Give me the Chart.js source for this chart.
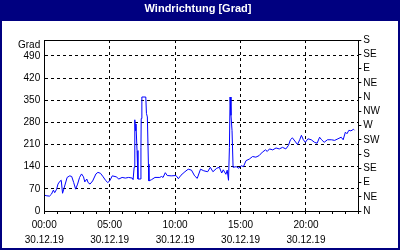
<!DOCTYPE html>
<html>
<head>
<meta charset="utf-8">
<script src="https://cdn.jsdelivr.net/npm/chart.js@4"></script>
<style>
    html, body { margin: 0; padding: 0; background: #fff; }
</style>
</head>
<body>
<canvas id="grafikWind" width="400" height="250"></canvas>
<script>
// Messwerte Windrichtung (Stunde des Tages, Grad)
const stunden = [
    0.00, 0.20, 0.40, 0.55, 0.70, 0.80, 0.95, 1.05, 1.20, 1.30, 1.40, 1.50,
    1.75, 1.95, 2.10, 2.25, 2.40, 2.55, 2.70, 2.85, 3.00, 3.10, 3.25, 3.35,
    3.50, 3.70, 3.95, 4.10, 4.30, 4.50, 4.70, 4.85, 5.00, 5.20, 5.50, 5.70,
    5.95, 6.20, 6.45, 6.72, 6.79, 6.87, 6.92, 6.97, 7.01, 7.09, 7.16, 7.34,
    7.39, 7.41, 7.46, 7.76, 7.81, 7.88, 7.96, 8.00, 8.20, 8.46, 8.83, 8.96,
    9.08, 9.25, 9.40, 9.70, 10.07, 10.25, 10.45, 10.75, 11.00, 11.25, 11.49, 11.69,
    11.94, 12.19, 12.49, 12.69, 12.89, 13.18, 13.38, 13.56, 13.68, 13.88, 13.98, 14.08,
    14.15, 14.20, 14.27, 14.35, 14.43, 14.67, 14.87, 15.05, 15.22, 15.42, 15.67, 15.92,
    16.17, 16.42, 16.67, 16.91, 17.04, 17.21, 17.46, 17.71, 17.96, 18.21, 18.46, 18.66,
    18.81, 18.96, 19.15, 19.35, 19.52, 19.65, 19.80, 19.95, 20.15, 20.40, 20.65, 20.85,
    21.04, 21.19, 21.39, 21.64, 21.94, 22.19, 22.44, 22.69, 22.84, 23.01, 23.13, 23.28,
    23.43, 23.63, 23.70
];
const grad = [
    50, 48, 47, 53, 66, 58, 69, 85, 94, 97, 56, 70,
    106, 111, 109, 90, 69, 85, 106, 117, 108, 92, 101, 90,
    85, 95, 117, 122, 119, 108, 96, 90, 95, 111, 108, 101,
    106, 104, 106, 104, 99, 138, 288, 254, 275, 191, 101, 101,
    201, 292, 360, 360, 308, 297, 148, 95, 99, 106, 106, 109,
    106, 121, 112, 111, 112, 102, 113, 124, 132, 129, 111, 103,
    132, 127, 124, 138, 124, 135, 138, 120, 130, 116, 129, 97,
    201, 360, 302, 254, 138, 140, 135, 143, 140, 159, 164, 172,
    170, 175, 186, 193, 188, 196, 193, 199, 196, 201, 196, 207,
    225, 231, 221, 210, 225, 239, 225, 217, 228, 225, 217, 214,
    233, 225, 217, 225, 225, 223, 228, 233, 225, 249, 244, 255,
    253, 258, 255
];

// Achsen
const gradTicks = [0, 70, 140, 210, 280, 350, 420, 490, 540];
const richtungTicks = [0, 45, 90, 135, 180, 225, 270, 315, 360, 405, 450, 495, 540];
const richtungen = ['N', 'NE', 'E', 'SE', 'S', 'SW', 'W', 'NW', 'N', 'NE', 'E', 'SE', 'S'];
const stundenTicks = [0, 1, 2, 3, 4, 5, 6, 7, 8, 9, 10, 11, 12, 13, 14, 15, 16, 17, 18, 19, 20, 21, 22, 23, 24];
const datum = '30.12.19';

const schrift = { family: '"Liberation Sans", Arial, sans-serif', size: 10 };
const navy = '#000080';

// Rahmen und Titelbalken
const rahmenPlugin = {
    id: 'rahmen',
    beforeDraw(chart) {
        const ctx = chart.ctx;
        ctx.save();
        ctx.fillStyle = '#fff';
        ctx.fillRect(0, 0, chart.width, chart.height);
        ctx.fillStyle = navy;
        ctx.fillRect(0, 0, chart.width, 21);
        ctx.fillRect(0, 0, 2, chart.height);
        ctx.fillRect(chart.width - 2, 0, 2, chart.height);
        ctx.fillRect(0, chart.height - 2, chart.width, 2);
        ctx.restore();
    },
    afterDraw(chart) {
        const a = chart.chartArea;
        const ctx = chart.ctx;
        ctx.save();
        ctx.strokeStyle = '#000';
        ctx.lineWidth = 1;
        ctx.strokeRect(Math.round(a.left) + 0.5, Math.round(a.top) + 0.5,
            Math.round(a.right - a.left), Math.round(a.bottom - a.top));
        ctx.restore();
    }
};

function zweistellig(n) {
    return (n < 10 ? '0' : '') + n;
}

const ctxWind = document.getElementById('grafikWind').getContext('2d');
const grafikWind = new Chart(ctxWind, {
    type: 'line',
    data: {
        datasets: [{
            label: 'Windrichtung',
            data: stunden.map((h, i) => ({ x: h, y: grad[i] })),
            borderColor: '#0000ff',
            borderWidth: 1,
            pointRadius: 0,
            tension: 0,
            fill: false,
            yAxisID: 'y'
        }]
    },
    options: {
        responsive: false,
        animation: false,
        devicePixelRatio: 1,
        layout: {
            padding: { left: 14, right: 18, bottom: -2, top: 0 }
        },
        plugins: {
            legend: { display: false },
            tooltip: { enabled: false },
            title: {
                display: true,
                text: 'Windrichtung [Grad]',
                color: '#fff',
                font: { family: schrift.family, size: 11, weight: 'bold' },
                padding: { top: 2, bottom: 24.8 }
            }
        },
        scales: {
            x: {
                type: 'linear',
                min: 0,
                max: 24,
                afterBuildTicks: s => { s.ticks = stundenTicks.map(v => ({ value: v })); },
                ticks: {
                    autoSkip: false,
                    maxRotation: 0,
                    padding: 4,
                    color: '#000',
                    font: { family: schrift.family, size: 10, lineHeight: 1.5 },
                    callback: v => (v % 5 === 0 ? [zweistellig(v) + ':00', datum] : '')
                },
                grid: {
                    color: c => (c.tick && c.tick.value % 5 === 0 && c.tick.value > 0 ? '#000' : 'transparent'),
                    tickColor: '#000',
                    tickLength: 3,
                    tickBorderDash: []
                },
                border: { display: true, color: '#000', dash: [3, 3] }
            },
            y: {
                position: 'left',
                min: 0,
                max: 540,
                afterBuildTicks: s => { s.ticks = gradTicks.map(v => ({ value: v })); },
                ticks: {
                    autoSkip: false,
                    padding: 4,
                    color: '#000',
                    font: { family: schrift.family, size: 10, lineHeight: 1 },
                    callback: v => (v === 540 ? ['', 'Grad'] : v)
                },
                grid: {
                    color: c => (c.tick && (c.tick.value === 0 || c.tick.value === 540) ? 'transparent' : '#000'),
                    drawTicks: false
                },
                border: { display: true, color: '#000', dash: [3, 3] }
            },
            y2: {
                position: 'right',
                min: 0,
                max: 540,
                afterBuildTicks: s => { s.ticks = richtungTicks.map(v => ({ value: v })); },
                ticks: {
                    autoSkip: false,
                    padding: 2,
                    color: '#000',
                    font: schrift,
                    callback: (v, i) => richtungen[i]
                },
                grid: {
                    drawOnChartArea: false,
                    color: '#000',
                    tickLength: 3
                },
                border: { display: true, color: '#000' }
            }
        }
    },
    plugins: [rahmenPlugin]
});
</script>
</body>
</html>
